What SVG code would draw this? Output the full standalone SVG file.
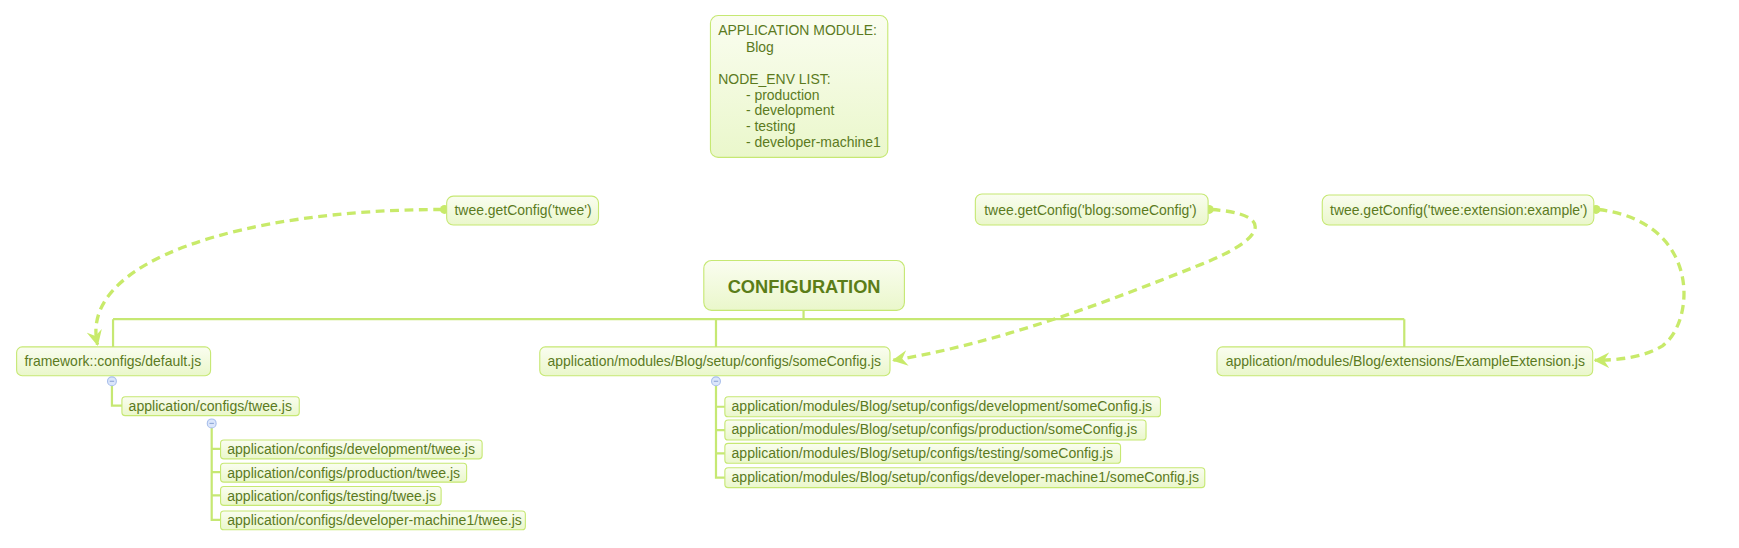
<svg xmlns="http://www.w3.org/2000/svg" width="1739" height="548" viewBox="0 0 1739 548">
<defs>
<linearGradient id="g" x1="0" y1="0" x2="0" y2="1">
<stop offset="0" stop-color="#fafdf0"/>
<stop offset="1" stop-color="#eaf7cb"/>
</linearGradient>
<marker id="arr" viewBox="0 0 12 12" refX="11" refY="6" markerWidth="14" markerHeight="14" orient="auto" markerUnits="userSpaceOnUse">
<path d="M0,0 L12,6 L0,12 L4,6 z" fill="#c8ea6a"/>
</marker>
</defs>
<style>
.box{fill:url(#g);stroke:#c6e873;stroke-width:1}
.t{font-family:"Liberation Sans",Arial,sans-serif;font-size:12.6px;fill:#5b7a1e}
.s{font-family:"Liberation Sans",Arial,sans-serif;font-size:12.7px;fill:#5b7a1e}
.b{font-family:"Liberation Sans",Arial,sans-serif;font-size:16.5px;font-weight:bold;fill:#5b7d18}
.ln{fill:none;stroke:#c6e873;stroke-width:2}
.da{fill:none;stroke:#c8ea6a;stroke-width:3;stroke-dasharray:8,5}
.dot{fill:#c8ea6a}
.col{fill:#dbe6fb;stroke:#a9bfeb;stroke-width:1}
.mn{stroke:#8ea6d6;stroke-width:1}
</style>
<g transform="scale(1.10835)">
<g id="connectors">
<path class="ln" d="M725,280 V288 M102,288 H1267 M102,288 V313 M646,288 V313 M1267,288 V313"/>
<path class="ln" d="M101,348 V366 H110"/>
<path class="ln" d="M191,386 V470 M191,405 H199 M191,426 H199 M191,447 H199 M191,469 H199"/>
<path class="ln" d="M646,348 V432 M646,367 H654 M646,388 H654 M646,409 H654 M646,431 H654"/>
<path class="da" d="M399,189 C220,189 70,235 88,311" marker-end="url(#arr)"/>
<path class="da" d="M1093,189 C1150,193 1145,215 1080,240 C1000,272 900,310 806,325" marker-end="url(#arr)"/>
<path class="da" d="M1442,189 C1535,200 1530,290 1500,312 C1484,322 1462,325 1439,325" marker-end="url(#arr)"/>
<circle class="dot" cx="401" cy="189" r="4"/>
<circle class="dot" cx="1091" cy="189" r="4"/>
<circle class="dot" cx="1440" cy="189" r="4"/>
</g>

<g id="note">
<rect class="box" x="641" y="14" width="160" height="128" rx="7"/>
<text class="t" x="648" y="32">APPLICATION MODULE:</text>
<text class="t" x="673" y="47">Blog</text>
<text class="t" x="648" y="76">NODE_ENV LIST:</text>
<text class="t" x="673" y="90">- production</text>
<text class="t" x="673" y="104">- development</text>
<text class="t" x="673" y="118">- testing</text>
<text class="t" x="673" y="133">- developer-machine1</text>
</g>

<g id="call-twee">
<rect class="box" x="403" y="177" width="137" height="26" rx="6"/>
<text class="t" x="410" y="194">twee.getConfig('twee')</text>
</g>
<g id="call-blog">
<rect class="box" x="880" y="175" width="210" height="28" rx="6"/>
<text class="t" x="888" y="194">twee.getConfig('blog:someConfig')</text>
</g>
<g id="call-ext">
<rect class="box" x="1193" y="176" width="245" height="27" rx="6"/>
<text class="t" x="1200" y="194">twee.getConfig('twee:extension:example')</text>
</g>

<g id="root">
<rect class="box" x="635" y="235" width="181" height="45" rx="7"/>
<text class="b" x="725.500" y="264" text-anchor="middle">CONFIGURATION</text>
</g>

<g id="framework-default">
<rect class="box" x="15" y="313" width="175" height="26" rx="5"/>
<text class="t" x="22" y="330">framework::configs/default.js</text>
</g>
<g id="blog-someconfig">
<rect class="box" x="487" y="313" width="316" height="26" rx="5"/>
<text class="t" x="494" y="330">application/modules/Blog/setup/configs/someConfig.js</text>
</g>
<g id="blog-extension">
<rect class="box" x="1098" y="313" width="339" height="26" rx="5"/>
<text class="t" x="1106" y="330">application/modules/Blog/extensions/ExampleExtension.js</text>
</g>

<g id="collapse-1"><circle class="col" cx="101" cy="344" r="4"/><path class="mn" d="M99,344 H103"/></g>
<g id="collapse-2"><circle class="col" cx="191" cy="382" r="4"/><path class="mn" d="M189,382 H193"/></g>
<g id="collapse-3"><circle class="col" cx="646" cy="344" r="4"/><path class="mn" d="M644,344 H648"/></g>

<g id="app-twee">
<rect class="box" x="110" y="358" width="160" height="17" rx="3"/>
<text class="s" x="116" y="371">application/configs/twee.js</text>
</g>
<g id="twee-dev">
<rect class="box" x="199" y="397" width="236" height="17" rx="3"/>
<text class="s" x="205" y="410">application/configs/development/twee.js</text>
</g>
<g id="twee-prod">
<rect class="box" x="199" y="418" width="222" height="17" rx="3"/>
<text class="s" x="205" y="431">application/configs/production/twee.js</text>
</g>
<g id="twee-test">
<rect class="box" x="199" y="439" width="199" height="17" rx="3"/>
<text class="s" x="205" y="452">application/configs/testing/twee.js</text>
</g>
<g id="twee-devm">
<rect class="box" x="199" y="461" width="275" height="17" rx="3"/>
<text class="s" x="205" y="474">application/configs/developer-machine1/twee.js</text>
</g>

<g id="some-dev">
<rect class="box" x="654" y="358" width="393" height="18" rx="3"/>
<text class="s" x="660" y="371">application/modules/Blog/setup/configs/development/someConfig.js</text>
</g>
<g id="some-prod">
<rect class="box" x="654" y="379" width="380" height="18" rx="3"/>
<text class="s" x="660" y="392">application/modules/Blog/setup/configs/production/someConfig.js</text>
</g>
<g id="some-test">
<rect class="box" x="654" y="400" width="357" height="18" rx="3"/>
<text class="s" x="660" y="413">application/modules/Blog/setup/configs/testing/someConfig.js</text>
</g>
<g id="some-devm">
<rect class="box" x="654" y="422" width="433" height="18" rx="3"/>
<text class="s" x="660" y="435">application/modules/Blog/setup/configs/developer-machine1/someConfig.js</text>
</g>
</g>
</svg>
